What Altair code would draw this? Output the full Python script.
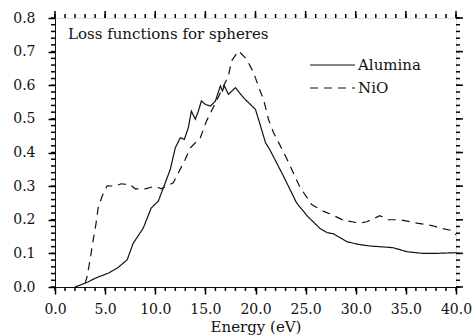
import altair as alt
import pandas as pd

# ---- data ----
alumina_e = [2.0, 2.7, 3.3, 4.0, 5.3, 6.3, 7.2, 7.8, 8.8, 9.6, 10.3, 11.0, 11.5, 12.0, 12.5,
             12.9, 13.3, 13.6, 14.0, 14.3, 14.6, 15.0, 15.5, 16.0, 16.5, 16.7, 16.9, 17.3,
             18.0, 18.8, 20.0, 20.4, 21.0, 21.4, 22.8, 24.1, 25.2, 26.4, 27.1, 27.8, 29.1,
             30.2, 31.4, 33.7, 35.1, 36.7, 38.0, 40.0]
alumina_v = [0.0, 0.008, 0.015, 0.026, 0.041, 0.058, 0.081, 0.130, 0.175, 0.235, 0.255, 0.31,
             0.35, 0.414, 0.444, 0.439, 0.474, 0.523, 0.499, 0.523, 0.553, 0.543, 0.538, 0.553,
             0.598, 0.583, 0.598, 0.573, 0.593, 0.563, 0.528, 0.489, 0.429, 0.41, 0.329, 0.250,
             0.21, 0.175, 0.162, 0.158, 0.135, 0.127, 0.122, 0.117, 0.105, 0.100, 0.100, 0.102]

nio_e = [3.0, 3.2, 3.5, 3.7, 4.1, 4.3, 4.7, 5.2, 6.0, 6.6, 7.5, 8.0, 9.0, 10.0, 10.6, 11.1,
         11.8, 13.0, 13.5, 14.5, 15.1, 16.1, 17.3, 17.6, 18.3, 19.1, 19.8, 20.4, 20.8, 21.3,
         21.8, 23.0, 24.4, 25.6, 26.8, 27.4, 28.8, 30.4, 31.1, 32.4, 33.2, 34.4, 36.1, 37.7,
         38.4, 39.6, 40.0]
nio_v = [0.01, 0.031, 0.081, 0.120, 0.19, 0.235, 0.27, 0.301, 0.30, 0.307, 0.304, 0.292, 0.292,
         0.30, 0.292, 0.30, 0.31, 0.38, 0.414, 0.444, 0.493, 0.553, 0.628, 0.672, 0.702, 0.678,
         0.638, 0.588, 0.558, 0.498, 0.459, 0.389, 0.299, 0.245, 0.225, 0.218, 0.198, 0.190,
         0.194, 0.212, 0.200, 0.200, 0.190, 0.182, 0.175, 0.168, 0.155]

series_names = ["Alumina", "NiO"]
x_major = [0, 5, 10, 15, 20, 25, 30, 35, 40]
y_major = [0.0, 0.1, 0.2, 0.3, 0.4, 0.5, 0.6, 0.7, 0.8]
x_minor = list(range(0, 41))
y_minor = [round(i * 0.02, 2) for i in range(41)]
annotation = "Loss functions for spheres"
x_title = "Energy (eV)"

df = pd.concat([
    pd.DataFrame({"energy": alumina_e, "loss": alumina_v, "series": series_names[0]}),
    pd.DataFrame({"energy": nio_e, "loss": nio_v, "series": series_names[1]}),
], ignore_index=True)
xmaj = pd.DataFrame({"energy": x_major})
ymaj = pd.DataFrame({"loss": y_major})
xmin = pd.DataFrame({"energy": x_minor})
ymin = pd.DataFrame({"loss": y_minor})

FONT = "DejaVu Serif"
INK = "#111111"
TICK = "black"
TW = 1.5
W, H = 401, 269
xs = alt.Scale(domain=[0, 40], nice=False, zero=False)
ys = alt.Scale(domain=[0, 0.8], nice=False, zero=False)

xaxis = alt.Axis(orient="bottom", values=x_major, format=".1f", title=x_title,
                 tickSize=7, tickWidth=TW, labelPadding=8, titlePadding=3, grid=False,
                 labelOverlap=False, labelFlush=False, domainColor=INK, tickColor=TICK,
                 labelColor=INK, titleColor=INK, labelFont=FONT, titleFont=FONT,
                 labelFontSize=14, titleFontSize=15, titleFontWeight="normal")
yaxis = alt.Axis(orient="left", values=y_major, format=".1f", title=None,
                 tickSize=7, tickWidth=TW, labelPadding=13, grid=False,
                 labelOverlap=False, labelFlush=False, domainColor=INK, tickColor=TICK,
                 labelColor=INK, labelFont=FONT, labelFontSize=14)

legend = alt.Legend(title=None, orient="none", legendX=254, legendY=39,
                    symbolType="stroke", symbolSize=2025, symbolStrokeWidth=1.2,
                    symbolStrokeColor=INK, labelFont=FONT, labelFontSize=15,
                    labelColor=INK, labelOffset=2, clipHeight=16, rowPadding=7)

lines = alt.Chart(df).mark_line(strokeWidth=1.2).encode(
    x=alt.X("energy:Q", scale=xs, axis=xaxis),
    y=alt.Y("loss:Q", scale=ys, axis=yaxis),
    color=alt.Color("series:N", scale=alt.Scale(domain=series_names, range=[INK, INK]),
                    legend=legend),
    strokeDash=alt.StrokeDash("series:N",
                              scale=alt.Scale(domain=series_names, range=[[1, 0], [8, 6]]),
                              legend=legend),
    order=alt.Order("energy:Q"),
)

rule = dict(stroke=TICK, strokeWidth=TW, opacity=1)
bottom_minor = alt.Chart(xmin).mark_rule(**rule).encode(
    x=alt.X("energy:Q", scale=xs, axis=xaxis), y=alt.value(H), y2=alt.value(H + 4))
left_minor = alt.Chart(ymin).mark_rule(**rule).encode(
    y=alt.Y("loss:Q", scale=ys, axis=yaxis), x=alt.value(0), x2=alt.value(-4))
top_major = alt.Chart(xmaj).mark_rule(**rule).encode(
    x=alt.X("energy:Q", scale=xs, axis=xaxis), y=alt.value(0), y2=alt.value(-7))
top_minor = alt.Chart(xmin).mark_rule(**rule).encode(
    x=alt.X("energy:Q", scale=xs, axis=xaxis), y=alt.value(0), y2=alt.value(-4))
right_major = alt.Chart(ymaj).mark_rule(**rule).encode(
    y=alt.Y("loss:Q", scale=ys, axis=yaxis), x=alt.value(W), x2=alt.value(W + 7))
right_minor = alt.Chart(ymin).mark_rule(**rule).encode(
    y=alt.Y("loss:Q", scale=ys, axis=yaxis), x=alt.value(W), x2=alt.value(W + 4))

label = alt.Chart(pd.DataFrame({"t": [annotation]})).mark_text(
    align="left", baseline="middle", font=FONT, fontSize=15, color=INK
).encode(text="t:N", x=alt.value(13), y=alt.value(16))

chart = alt.layer(
    lines, bottom_minor, left_minor, top_major, top_minor, right_major, right_minor, label
).properties(
    width=W, height=H,
    autosize=alt.AutoSizeParams(type="none"),
    padding={"left": 55, "top": 18, "right": 19, "bottom": 49},
).configure_view(stroke=INK, strokeWidth=1).configure(background="white")

chart.save("out.html", embed_options={"renderer": "svg", "actions": False})
